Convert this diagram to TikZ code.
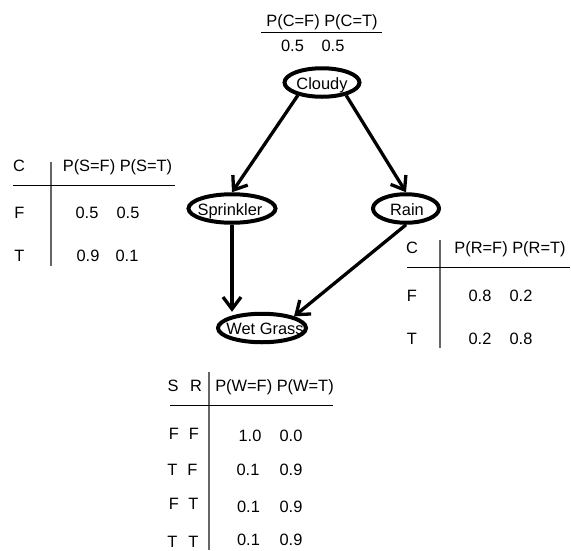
\documentclass[tikz,border=0pt]{standalone}
\usepackage{fontspec}
\setmainfont{Liberation Sans}
\usetikzlibrary{arrows.meta,shapes.geometric}
\begin{document}
\begin{tikzpicture}[x=1pt,y=-1pt,
  txt/.style={font=\fontsize{16.4}{19}\selectfont, inner sep=0pt, anchor=base},
  var/.style={ellipse, draw, line width=4pt, inner sep=0pt, minimum height=28.5pt,
    font=\fontsize{16.4}{19}\selectfont, text height=13.7pt, text depth=0pt},
  edge/.style={line width=3.3pt, -{Straight Barb[length=12pt,width=18pt]}},
  hrule/.style={line width=1pt},
  vrule/.style={line width=1.1pt, black!60}]
\useasboundingbox (0,0) rectangle (571,550);

% Bayesian network nodes
\node[var, minimum width=75pt] (cloudy) at (322,82.5) {\makebox[0pt]{Cloudy}};
\node[var, minimum width=87pt] (spr) at (232,208.5) {\makebox[0pt]{Sprinkler\hspace*{4pt}}};
\node[var, minimum width=66pt] (rain) at (406,208.5) {\makebox[0pt]{\hspace*{2pt}Rain}};
\node[var, minimum width=88pt] (wet) at (262,328) {\makebox[0pt]{\hspace*{6pt}Wet Grass}};

\draw[edge] (cloudy.208) -- (spr.north);
\draw[edge] (cloudy.332) -- (rain.north);
\draw[edge] (spr.south) -- (spr.south |- wet.north);
\draw[edge] (rain.south) -- (wet.20);

% Table for Cloudy
\node[txt] (ch) at (322,26) {P(C=F) P(C=T)};
\draw[hrule] (261,32) -- (382,32);
\node[txt] (c1) at (292.5,51) {0.5};
\node[txt] (c2) at (333,51) {0.5};

% Table for Sprinkler
\node[txt] (sc) at (19,171) {C};
\node[txt] (sh) at (117.5,171) {P(S=F) P(S=T)};
\draw[vrule] (51,162) -- (51,266);
\draw[hrule] (13,185) -- (175,185);
\node[txt] (sf) at (19.5,218) {F};
\node[txt] (st) at (19.5,261) {T};
\node[txt] (s11) at (87,218) {0.5};
\node[txt] (s12) at (128,218) {0.5};
\node[txt] (s21) at (88,261.5) {0.9};
\node[txt] (s22) at (127,261.5) {0.1};

% Table for Rain
\node[txt] (rc) at (412,253) {C};
\node[txt] (rh) at (510,253) {P(R=F) P(R=T)};
\draw[vrule] (440,240) -- (440,348);
\draw[hrule] (407,267) -- (570,267);
\node[txt] (rf) at (412,301.5) {F};
\node[txt] (rt) at (412,344.5) {T};
\node[txt] (r11) at (480,301.5) {0.8};
\node[txt] (r12) at (521,301.5) {0.2};
\node[txt] (r21) at (480,344.5) {0.2};
\node[txt] (r22) at (521,344.5) {0.8};

% Table for Wet Grass
\node[txt] (ws) at (173,391) {S};
\node[txt] (wr) at (196,391) {R};
\node[txt] (wh) at (274.5,391) {P(W=F) P(W=T)};
\draw[vrule] (209,372) -- (209,550);
\draw[hrule] (170,405) -- (333,405);
\node[txt] (wl1s) at (174,439) {F};
\node[txt] (wl1r) at (194,439) {F};
\node[txt] (wl2s) at (172.5,475) {T};
\node[txt] (wl2r) at (192.5,475) {F};
\node[txt] (wl3s) at (174,509.5) {F};
\node[txt] (wl3r) at (193.5,509.5) {T};
\node[txt] (wl4s) at (172.5,547) {T};
\node[txt] (wl4r) at (193.5,547) {T};
\node[txt] (w11) at (250,441) {1.0};
\node[txt] (w12) at (291,441) {0.0};
\node[txt] (w21) at (248,475) {0.1};
\node[txt] (w22) at (291,475) {0.9};
\node[txt] (w31) at (248.5,512) {0.1};
\node[txt] (w32) at (291,512) {0.9};
\node[txt] (w41) at (248.5,545) {0.1};
\node[txt] (w42) at (291,545) {0.9};
\end{tikzpicture}
\end{document}
